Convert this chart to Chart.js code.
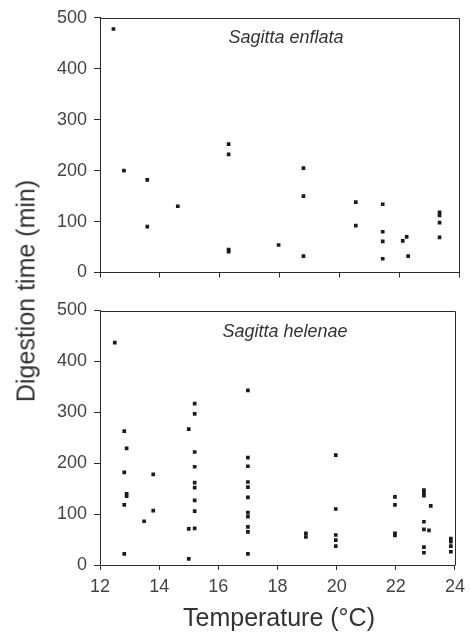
<!DOCTYPE html>
<html><head><meta charset="utf-8">
<script src="https://cdn.jsdelivr.net/npm/chart.js@4.4.0/dist/chart.umd.min.js"></script>
<style>
html,body{margin:0;padding:0;background:#fff;}
#wrap{position:relative;width:471px;height:633px;overflow:hidden;font-family:"Liberation Sans",Arial,sans-serif;}
.cv{position:absolute;left:0;}
#ytitle{position:absolute;left:26px;top:291px;transform:translate(-50%,-50%) rotate(-90deg);white-space:nowrap;font-size:25px;color:#333;}
#xtitle{position:absolute;left:279px;top:617px;transform:translate(-50%,-50%);white-space:nowrap;font-size:25px;color:#333;}
.lab{position:absolute;transform:translate(-50%,-50%);font-style:italic;font-size:18px;color:#333;white-space:nowrap;}
</style></head>
<body><div id="wrap">
<canvas id="c1" class="cv" style="top:0" width="471" height="300"></canvas>
<canvas id="c2" class="cv" style="top:290px" width="471" height="343"></canvas>
<div id="ytitle">Digestion time (min)</div>
<div id="xtitle">Temperature (°C)</div>
<div class="lab" style="left:286px;top:37px">Sagitta enflata</div>
<div class="lab" style="left:285px;top:331px">Sagitta helenae</div>
</div>
<script>
// ---- data ----
const xTicks = [12, 14, 16, 18, 20, 22, 24];
const yTicks = [0, 100, 200, 300, 400, 500];

const enflataTemp = [12.45, 12.8, 13.58, 13.58, 14.6, 16.3, 16.3, 16.3, 16.3, 17.97,
  18.8, 18.8, 18.8, 20.55, 20.55, 21.45, 21.45, 21.45, 21.45, 22.12, 22.25, 22.3,
  23.35, 23.35, 23.35, 23.35];
const enflataTime = [478, 200, 182, 90, 130, 252, 232, 45, 41, 54,
  205, 150, 32, 138, 92, 134, 80, 61, 27, 62, 70, 32,
  118, 112, 98, 69];

const helenaeTemp = [12.5,
  12.82, 12.82, 12.82, 12.82,
  12.9, 12.9, 12.9,
  13.49, 13.8, 13.8,
  15.0, 15.0, 15.0,
  15.2, 15.2, 15.2, 15.2, 15.2, 15.2, 15.2, 15.2, 15.2,
  17.0, 17.0, 17.0, 17.0, 17.0, 17.0, 17.0, 17.0, 17.0, 17.0, 17.0,
  18.96, 18.96,
  19.97, 19.97, 19.97, 19.97, 19.97,
  21.97, 21.97, 21.97, 21.97,
  22.95, 22.95, 22.95, 22.95, 22.95, 22.95, 22.95,
  23.12, 23.18,
  23.86, 23.86, 23.86, 23.86];
const helenaeTime = [437,
  263, 182, 118, 22,
  229, 140, 135,
  86, 178, 107,
  267, 71, 12,
  317, 297, 222, 193, 162, 152, 127, 106, 72,
  343, 211, 194, 163, 153, 133, 103, 95, 75, 65, 22,
  62, 55,
  216, 110, 59, 49, 37,
  134, 118, 62, 58,
  147, 141, 136, 85, 70, 35, 24,
  68, 116,
  52, 46, 37, 26];

// ---- chart building ----
const INK = '#2a2a2a';
const TXT = '#444';
const boxPlugin = {
  id: 'box',
  afterDraw(chart) {
    const a = chart.chartArea, ctx = chart.ctx;
    ctx.save();
    ctx.strokeStyle = INK;
    ctx.lineWidth = 1;
    ctx.beginPath();
    ctx.moveTo(Math.round(a.left) + 0.5, Math.round(a.top) + 0.5);
    ctx.lineTo(Math.round(a.right) + 0.5, Math.round(a.top) + 0.5);
    ctx.lineTo(Math.round(a.right) + 0.5, Math.round(a.bottom) + 0.5);
    ctx.stroke();
    ctx.restore();
  }
};

function makePanel(id, temps, times, showXLabels, padTop, xAxisHeight) {
  const pts = temps.map((t, i) => ({ x: t, y: times[i] }));
  return new Chart(document.getElementById(id), {
    type: 'scatter',
    data: { datasets: [{
      data: pts,
      pointStyle: 'rect',
      pointRadius: 2.6,
      pointHoverRadius: 2.6,
      backgroundColor: '#1a1a1a',
      borderWidth: 0
    }]},
    options: {
      responsive: false,
      animation: false,
      layout: { padding: { top: padTop, right: 12, left: 0, bottom: 0 } },
      plugins: { legend: { display: false }, tooltip: { enabled: false } },
      scales: {
        x: {
          type: 'linear', min: 12, max: 24,
          afterBuildTicks: s => { s.ticks = xTicks.map(v => ({ value: v })); },
          afterFit: s => { s.height = xAxisHeight; },
          grid: { drawOnChartArea: false, drawTicks: true, tickLength: 5, color: INK },
          border: { display: true, color: INK, width: 1 },
          ticks: { display: showXLabels, padding: 6, color: TXT, font: { family: '"Liberation Sans", Arial, sans-serif', size: 18 } }
        },
        y: {
          type: 'linear', min: 0, max: 500,
          afterBuildTicks: s => { s.ticks = yTicks.map(v => ({ value: v })); },
          afterFit: s => { s.width = 100; },
          grid: { drawOnChartArea: false, drawTicks: true, tickLength: 6, color: INK },
          border: { display: true, color: INK, width: 1 },
          ticks: { padding: 7, color: TXT, font: { family: '"Liberation Sans", Arial, sans-serif', size: 18 } }
        }
      }
    },
    plugins: [boxPlugin]
  });
}

makePanel('c1', enflataTemp, enflataTime, false, 17, 27.5);
makePanel('c2', helenaeTemp, helenaeTime, true, 20.5, 68);
</script>
</body></html>
